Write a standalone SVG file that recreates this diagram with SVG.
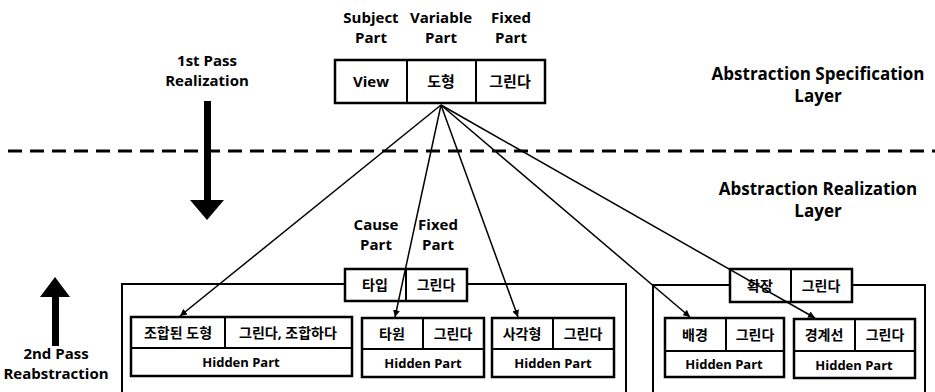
<svg xmlns="http://www.w3.org/2000/svg" width="935" height="392" viewBox="0 0 935 392">
<defs>
<style>
text{font-family:'Open Sans','Noto Sans CJK KR',sans-serif;font-weight:bold;fill:#000;text-anchor:middle}
.lbl{font-size:15px}
.big{font-size:17px}
.cell{font-size:15px}
.sm{font-size:13px}
.ko{font-size:14px}
.box{fill:#fff;stroke:#000;stroke-width:2.5}
.div{stroke:#000;stroke-width:2}
.cont{fill:none;stroke:#000;stroke-width:2}
.conn{stroke:#000;stroke-width:1.5;fill:none;marker-end:url(#ah)}
</style>
<marker id="ah" viewBox="0 0 10 10" refX="10" refY="5" markerWidth="7" markerHeight="7" markerUnits="userSpaceOnUse" orient="auto">
<path d="M0,0 L10,5 L0,10 z" fill="#000"/>
</marker>
</defs>

<!-- layer separator -->
<line x1="8" y1="151" x2="935" y2="151" stroke="#000" stroke-width="3" stroke-dasharray="14 8"/>

<!-- labels -->
<g id="labels">
<text class="lbl" x="371" y="23">Subject</text>
<text class="lbl" x="371" y="43">Part</text>
<text class="lbl" x="441" y="23">Variable</text>
<text class="lbl" x="441" y="43">Part</text>
<text class="lbl" x="511" y="23">Fixed</text>
<text class="lbl" x="511" y="43">Part</text>
<text class="lbl" x="207" y="66">1st Pass</text>
<text class="lbl" x="207" y="86">Realization</text>
<text class="big" x="818" y="80">Abstraction Specification</text>
<text class="big" x="818" y="102">Layer</text>
<text class="big" x="818" y="195">Abstraction Realization</text>
<text class="big" x="818" y="217">Layer</text>
<text class="lbl" x="376" y="230">Cause</text>
<text class="lbl" x="376" y="250">Part</text>
<text class="lbl" x="438" y="230">Fixed</text>
<text class="lbl" x="438" y="250">Part</text>
<text class="lbl" x="56" y="359">2nd Pass</text>
<text class="lbl" x="56" y="379">Reabstraction</text>
</g>

<!-- pass arrows -->
<g id="pass-arrows">
<rect x="204" y="101" width="7" height="102" fill="#000"/>
<path d="M190,200 L224,200 L207,220 z" fill="#000"/>
<rect x="52" y="295" width="7" height="51" fill="#000"/>
<path d="M40,297 L70,297 L55,277 z" fill="#000"/>
</g>

<!-- containers -->
<g id="container1">
<rect class="cont" x="122" y="284" width="504" height="130"/>
</g>
<g id="container2">
<rect class="cont" x="653" y="285" width="272" height="130"/>
</g>

<!-- top node -->
<g id="spec">
<rect class="box" x="335" y="60" width="210" height="43"/>
<line class="div" x1="407" y1="60" x2="407" y2="103"/>
<line class="div" x1="476" y1="60" x2="476" y2="103"/>
<text class="lbl" x="371" y="87">View</text>
<text class="cell" x="441" y="87">도형</text>
<text class="cell" x="510" y="87">그린다</text>
</g>

<!-- header 1 -->
<g id="header1">
<rect class="box" x="345" y="269" width="122" height="32"/>
<line class="div" x1="406" y1="269" x2="406" y2="301"/>
<text class="ko" x="375" y="290">타입</text>
<text class="ko" x="436" y="290">그린다</text>
</g>

<!-- header 2 -->
<g id="header2">
<rect class="box" x="730" y="269" width="122" height="33"/>
<line class="div" x1="791" y1="269" x2="791" y2="302"/>
<text class="ko" x="760" y="291">확장</text>
<text class="ko" x="821" y="291">그린다</text>
</g>

<!-- inner nodes -->
<g id="nodeA">
<rect class="box" x="131" y="317" width="221" height="59"/>
<line class="div" x1="131" y1="348" x2="352" y2="348"/>
<line class="div" x1="225" y1="317" x2="225" y2="348"/>
<text class="ko" x="178" y="338">조합된 도형</text>
<text class="ko" x="288" y="338">그린다, 조합하다</text>
<text class="sm" x="241" y="367">Hidden Part</text>
</g>
<g id="nodeB">
<rect class="box" x="362" y="318" width="122" height="59"/>
<line class="div" x1="362" y1="349" x2="484" y2="349"/>
<line class="div" x1="423" y1="318" x2="423" y2="349"/>
<text class="ko" x="392" y="339">타원</text>
<text class="ko" x="453" y="339">그린다</text>
<text class="sm" x="423" y="368">Hidden Part</text>
</g>
<g id="nodeC">
<rect class="box" x="492" y="318" width="122" height="59"/>
<line class="div" x1="492" y1="349" x2="614" y2="349"/>
<line class="div" x1="553" y1="318" x2="553" y2="349"/>
<text class="ko" x="522" y="339">사각형</text>
<text class="ko" x="583" y="339">그린다</text>
<text class="sm" x="553" y="368">Hidden Part</text>
</g>
<g id="nodeD">
<rect class="box" x="665" y="318" width="119" height="59"/>
<line class="div" x1="665" y1="351" x2="784" y2="351"/>
<line class="div" x1="726" y1="318" x2="726" y2="351"/>
<text class="ko" x="695" y="340">배경</text>
<text class="ko" x="755" y="340">그린다</text>
<text class="sm" x="724" y="369">Hidden Part</text>
</g>
<g id="nodeE">
<rect class="box" x="794" y="319" width="121" height="59"/>
<line class="div" x1="794" y1="351" x2="915" y2="351"/>
<line class="div" x1="855" y1="319" x2="855" y2="351"/>
<text class="ko" x="824" y="340">경계선</text>
<text class="ko" x="885" y="340">그린다</text>
<text class="sm" x="854" y="370">Hidden Part</text>
</g>

<!-- connectors -->
<g id="connectors">
<line class="conn" x1="441" y1="105" x2="180" y2="316"/>
<line class="conn" x1="441" y1="105" x2="395" y2="317"/>
<line class="conn" x1="441" y1="105" x2="518" y2="317"/>
<line class="conn" x1="441" y1="105" x2="690" y2="317"/>
<line class="conn" x1="441" y1="105" x2="815" y2="318"/>
</g>
</svg>
